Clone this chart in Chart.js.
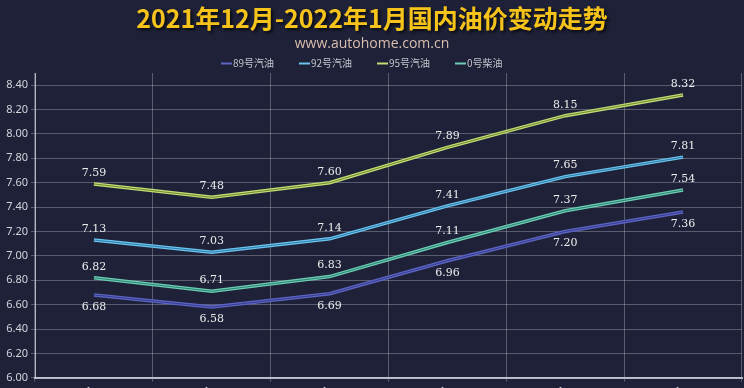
<!DOCTYPE html>
<html>
<head>
<meta charset="utf-8">
<script src="https://cdn.jsdelivr.net/npm/chart.js@4"></script>
<style>
  html, body { margin: 0; padding: 0; background: #1e2137; overflow: hidden; }
  #wrap { width: 744px; height: 430px; position: relative; }
</style>
</head>
<body>
<div id="wrap"><canvas id="oilChart"></canvas></div>
<script>
// chart data
const dates = ['11月19日', '12月3日', '12月17日', '12月31日', '1月14日', '1月28日'];
const names = ['89号汽油', '92号汽油', '95号汽油', '0号柴油'];
const price89 = [6.68, 6.58, 6.69, 6.96, 7.20, 7.36];
const price92 = [7.13, 7.03, 7.14, 7.41, 7.65, 7.81];
const price95 = [7.59, 7.48, 7.60, 7.89, 8.15, 8.32];
const price0 = [6.82, 6.71, 6.83, 7.11, 7.37, 7.54];
const yTicks = [6.0, 6.2, 6.4, 6.6, 6.8, 7.0, 7.2, 7.4, 7.6, 7.8, 8.0, 8.2, 8.4];

const titleText = '2021年12月-2022年1月国内油价变动走势';
const subText = 'www.autohome.com.cn';

const series = [
    { label: names[0], data: price89, outer: '#5d65c4', inner: '#373d8e', below: true },
    { label: names[1], data: price92, outer: '#6cc4ec', inner: '#2f7fae', below: false },
    { label: names[2], data: price95, outer: '#c4dc74', inner: '#6e8a30', below: false },
    { label: names[3], data: price0, outer: '#6cccb4', inner: '#2e8474', below: false }
];

// each line is drawn twice: light outer line + thin darker core on top (striped look)
const datasets = [];
series.forEach(s => {
    datasets.push({
        label: s.label, data: s.data, borderColor: s.outer, backgroundColor: s.outer,
        borderWidth: 3.5, pointRadius: 0, tension: 0, order: 1, below: s.below, showValues: true
    });
});
series.forEach(s => {
    datasets.push({
        label: s.label + '_core', data: s.data, borderColor: s.inner,
        borderWidth: 1, pointRadius: 0, tension: 0, order: 0
    });
});

// title, subtitle and legend drawn at fixed places
const header = {
    id: 'header',
    afterDraw(chart) {
        const ctx = chart.ctx;
        const cx = chart.width / 2;
        ctx.save();
        ctx.textAlign = 'center';
        ctx.textBaseline = 'middle';
        ctx.shadowColor = 'rgba(0,0,0,0.7)';
        ctx.shadowOffsetX = 2;
        ctx.shadowOffsetY = 2;
        ctx.shadowBlur = 3;
        ctx.font = 'bold 25px "Noto Sans CJK SC", sans-serif';
        ctx.fillStyle = '#f6c31b';
        ctx.fillText(titleText, cx, 18);
        ctx.shadowColor = 'transparent';

        ctx.font = '14px "Open Sans", sans-serif';
        ctx.fillStyle = '#dbbfb0';
        ctx.fillText(subText, cx, 44);

        // legend
        ctx.font = '10px "Noto Sans CJK SC", sans-serif';
        ctx.textAlign = 'left';
        const pitch = 78;
        let x = 221;
        series.forEach(s => {
            ctx.strokeStyle = s.outer;
            ctx.lineWidth = 2;
            ctx.beginPath();
            ctx.moveTo(x, 63.5);
            ctx.lineTo(x + 11, 63.5);
            ctx.stroke();
            ctx.fillStyle = '#c4c4cc';
            ctx.fillText(s.label, x + 12, 63.5);
            x += pitch;
        });
        ctx.restore();
    }
};

// value labels next to the points
const valueLabels = {
    id: 'valueLabels',
    afterDatasetsDraw(chart) {
        const ctx = chart.ctx;
        ctx.save();
        ctx.font = '11px "DejaVu Serif", "Liberation Serif", serif';
        ctx.fillStyle = '#ececec';
        ctx.textAlign = 'center';
        ctx.textBaseline = 'middle';
        chart.data.datasets.forEach((ds, i) => {
            if (!ds.showValues) return;
            chart.getDatasetMeta(i).data.forEach((pt, j) => {
                const off = ds.below ? 12 : -11;
                ctx.fillText(ds.data[j].toFixed(2), pt.x, pt.y + off);
            });
        });
        ctx.restore();
    }
};

new Chart(document.getElementById('oilChart'), {
    type: 'line',
    data: { labels: dates, datasets: datasets },
    plugins: [header, valueLabels],
    options: {
        responsive: true,
        maintainAspectRatio: false,
        animation: false,
        layout: { padding: { left: 0, right: 2, top: 73 } },
        plugins: {
            legend: { display: false },
            title: { display: false },
            tooltip: { enabled: false }
        },
        scales: {
            x: {
                offset: true,
                grid: { color: 'rgba(200,200,215,0.35)', offset: true, tickLength: 4 },
                border: { color: 'rgba(220,220,230,0.8)', width: 2 },
                ticks: { color: '#e0e0e0', maxRotation: 45, minRotation: 45, font: { size: 11 } }
            },
            y: {
                min: 6,
                max: 8.5,
                afterBuildTicks: axis => { axis.ticks = yTicks.map(v => ({ value: v })); },
                afterFit: axis => { axis.width = 35; },
                grid: { color: 'rgba(200,200,215,0.35)', tickLength: 4 },
                border: { color: 'rgba(220,220,230,0.8)', width: 1 },
                ticks: {
                    color: '#d4d4dc',
                    font: { family: '"Noto Sans", sans-serif', size: 11 },
                    padding: 3,
                    callback: v => Number(v).toFixed(2)
                }
            }
        }
    }
});
</script>
</body>
</html>
